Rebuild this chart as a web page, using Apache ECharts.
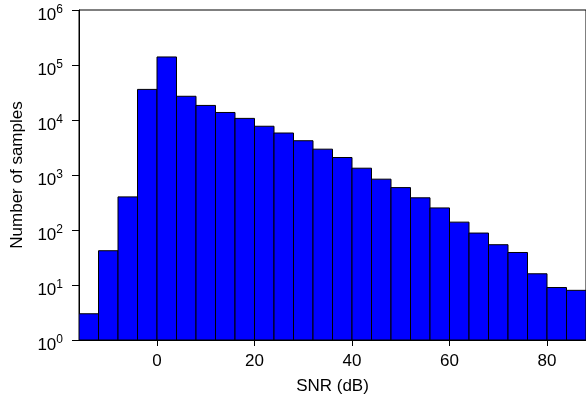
<!DOCTYPE html>
<html>
<head>
<meta charset="utf-8">
<script src="https://cdn.jsdelivr.net/npm/echarts@6/dist/echarts.min.js"></script>
<style>
html,body{margin:0;padding:0;background:#fff;}
#c{width:586px;height:403px;}
</style>
</head>
<body>
<div id="c"></div>
<script>
var binEdges = [-16,-12,-8,-4,0,4,8,12,16,20,24,28,32,36,40,44,48,52,56,60,64,68,72,76,80,84,88];
var counts = [3,42,400,36000,140000,27000,18400,13700,10700,7700,5800,4200,2950,2080,1330,840,590,385,252,139,88,54,39,16,9,8];
var xTicks = [0,20,40,60,80];
var yTicks = [1,10,100,1000,10000,100000,1000000];

var FONT = 'Liberation Sans, Arial, Helvetica, sans-serif';
var data = [];
for (var i = 0; i < counts.length; i++) {
  data.push([binEdges[i], binEdges[i+1], counts[i]]);
}

var chart = echarts.init(document.getElementById('c'), null, {renderer:'canvas'});
chart.setOption({
  animation: false,
  grid: {left: 79, top: 10, right: -7, bottom: 63, show: true, borderColor: '#000', borderWidth: 1, backgroundColor: 'transparent'},
  xAxis: {
    type: 'value', min: -16, max: 88,
    name: 'SNR (dB)', nameLocation: 'middle', nameGap: 38,
    nameTextStyle: {fontFamily: FONT, fontSize: 17, color: '#000'},
    axisLine: {show: true, onZero: false, lineStyle: {color: '#000', width: 1}},
    axisTick: {show: true, length: 6, lineStyle: {color: '#000'}, customValues: xTicks},
    axisLabel: {fontFamily: FONT, fontSize: 17, color: '#000', margin: 13, customValues: xTicks},
    splitLine: {show: false}
  },
  yAxis: {
    type: 'log', logBase: 10, min: 1, max: 1000000,
    name: 'Number of samples', nameLocation: 'middle', nameGap: 53,
    nameTextStyle: {fontFamily: FONT, fontSize: 17, color: '#000'},
    axisLine: {show: true, onZero: false, lineStyle: {color: '#000', width: 1}},
    axisTick: {show: true, length: 7, lineStyle: {color: '#000'}, customValues: yTicks},
    axisLabel: {
      customValues: yTicks,
      margin: 16, color: '#000', fontFamily: FONT,
      padding: [5,0,0,0],
      formatter: function (v) {
        var e = Math.round(Math.log(v) / Math.LN10);
        return '{b|10}{s|' + e + '}';
      },
      rich: {
        b: {fontFamily: FONT, fontSize: 17, lineHeight: 17, color: '#000', padding: [5,0,0,0]},
        s: {fontFamily: FONT, fontSize: 12, lineHeight: 12, color: '#000', verticalAlign: 'top'}
      }
    },
    splitLine: {show: false}
  },
  series: [{
    type: 'custom',
    data: data,
    clip: true,
    encode: {x: [0, 1], y: 2},
    renderItem: function (params, api) {
      var x0 = api.value(0), x1 = api.value(1), v = api.value(2);
      var p0 = api.coord([x0, v]);
      var p1 = api.coord([x1, 1]);
      return {
        type: 'rect',
        shape: {x: p0[0], y: p0[1], width: p1[0] - p0[0], height: p1[1] - p0[1]},
        style: {fill: '#0000ff', stroke: '#000', lineWidth: 1}
      };
    }
  }]
});
</script>
</body>
</html>
